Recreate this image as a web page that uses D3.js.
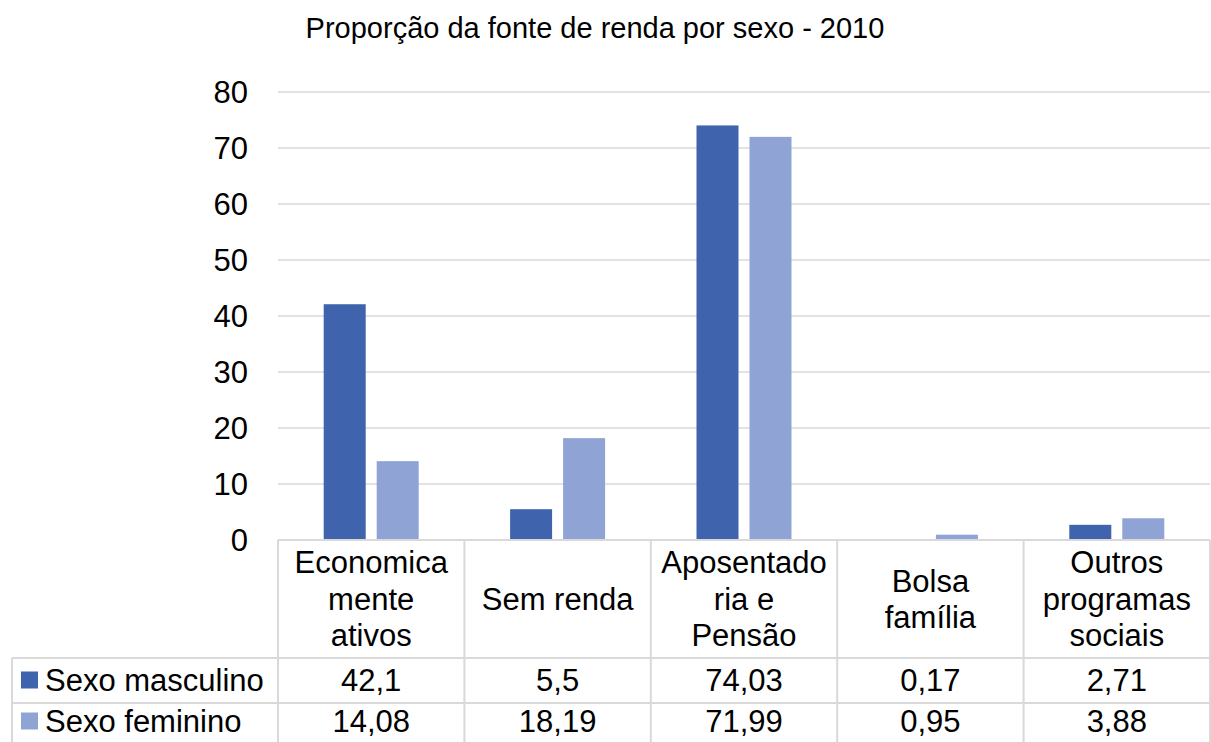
<!DOCTYPE html>
<html>
<head>
<meta charset="utf-8">
<script src="https://cdn.jsdelivr.net/npm/d3@7"></script>
<style>
  body { margin: 0; background: #fff; }
  text { font-family: "Liberation Sans", Arial, sans-serif; fill: #000; }
</style>
</head>
<body>
<div id="chart"></div>
<script>
// data
const categories = [
  ["Economica", "mente", "ativos"],
  ["Sem renda"],
  ["Aposentado", "ria e", "Pensão"],
  ["Bolsa", "família"],
  ["Outros", "programas", "sociais"]
];
const seriesNames = ["Sexo masculino", "Sexo feminino"];
const masculino = [42.1, 5.5, 74.03, 0.17, 2.71];
const feminino = [14.08, 18.19, 71.99, 0.95, 3.88];
const yTicks = [0, 10, 20, 30, 40, 50, 60, 70, 80];
const colors = ["#3f63ad", "#8fa4d4"];

const W = 1211, H = 742;
const plotLeft = 278, plotRight = 1210, plotTop = 92, plotBottom = 540;
const rowTops = [540, 658, 703, 748];
const tableLeft = 12;
const grid = "#d9d9d9";
const fs = 31;

const svg = d3.select("#chart").append("svg")
  .attr("width", W).attr("height", H);

svg.append("text")
  .attr("x", 595).attr("y", 38)
  .attr("text-anchor", "middle")
  .attr("font-size", 29)
  .text("Proporção da fonte de renda por sexo - 2010");

const y = d3.scaleLinear().domain([0, 80]).range([plotBottom, plotTop]);
const x = d3.scaleBand().domain(d3.range(categories.length)).range([plotLeft, plotRight]);

// gridlines
svg.append("g").selectAll("line").data(yTicks).join("line")
  .attr("x1", plotLeft).attr("x2", plotRight)
  .attr("y1", d => y(d)).attr("y2", d => y(d))
  .attr("stroke", grid).attr("stroke-width", 1.5);

// y axis labels
svg.append("g").selectAll("text").data(yTicks).join("text")
  .attr("x", 248).attr("y", d => y(d))
  .attr("dy", "0.35em")
  .attr("text-anchor", "end")
  .attr("font-size", fs)
  .text(d => d);

// bars
const barW = 42, gap = 11;
const series = [masculino, feminino];
series.forEach((vals, s) => {
  svg.append("g").selectAll("rect").data(vals).join("rect")
    .attr("x", (d, i) => x(i) + x.bandwidth() / 2 + (s === 0 ? -gap / 2 - barW : gap / 2))
    .attr("y", d => y(d))
    .attr("width", barW)
    .attr("height", d => y(0) - y(d))
    .attr("fill", colors[s]);
});

// data table lines
const tbl = svg.append("g").attr("stroke", grid).attr("stroke-width", 2);
tbl.append("line").attr("x1", plotLeft).attr("x2", plotRight).attr("y1", rowTops[0]).attr("y2", rowTops[0]);
[rowTops[1], rowTops[2]].forEach(yy => {
  tbl.append("line").attr("x1", tableLeft).attr("x2", plotRight).attr("y1", yy).attr("y2", yy);
});
d3.range(categories.length + 1).forEach(i => {
  const xx = i < categories.length ? x(i) : plotRight;
  tbl.append("line").attr("x1", xx).attr("x2", xx).attr("y1", rowTops[0]).attr("y2", H);
});
tbl.append("line").attr("x1", tableLeft).attr("x2", tableLeft).attr("y1", rowTops[1]).attr("y2", H);

// category labels
const lineH = 36.5;
categories.forEach((lines, i) => {
  const cy = (rowTops[0] + rowTops[1]) / 2;
  const t = svg.append("text")
    .attr("text-anchor", "middle")
    .attr("font-size", fs);
  lines.forEach((l, k) => {
    t.append("tspan")
      .attr("x", x(i) + x.bandwidth() / 2)
      .attr("y", cy + (k - (lines.length - 1) / 2) * lineH)
      .attr("dy", "0.35em")
      .text(l);
  });
});

// legend cells and values
const fmt = v => String(v).replace(".", ",");
series.forEach((vals, s) => {
  const cy = (rowTops[s + 1] + Math.min(rowTops[s + 2], H)) / 2 + (s === 1 ? -1 : 0);
  svg.append("rect")
    .attr("x", 21).attr("y", cy - 9)
    .attr("width", 17).attr("height", 17)
    .attr("fill", colors[s]);
  svg.append("text")
    .attr("x", 45).attr("y", cy).attr("dy", "0.35em")
    .attr("font-size", fs)
    .text(seriesNames[s]);
  svg.append("g").selectAll("text").data(vals).join("text")
    .attr("x", (d, i) => x(i) + x.bandwidth() / 2)
    .attr("y", cy).attr("dy", "0.35em")
    .attr("text-anchor", "middle")
    .attr("font-size", fs)
    .text(d => fmt(d));
});
</script>
</body>
</html>
